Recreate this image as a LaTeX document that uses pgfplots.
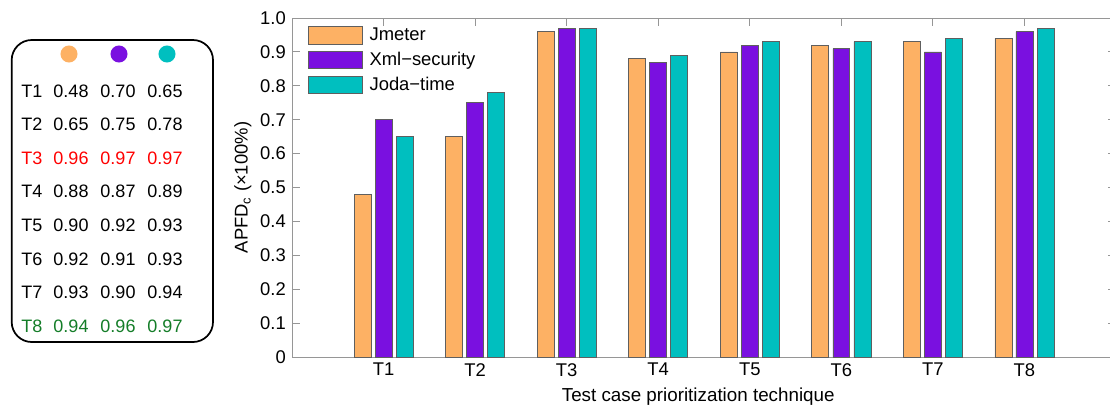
\documentclass[border=0pt]{standalone}
\usepackage{pgfplots}
\pgfplotsset{compat=1.18}
\usepackage{fontspec}
\setmainfont{Liberation Sans}
\definecolor{cOr}{RGB}{253,177,100}
\definecolor{cPu}{RGB}{122,16,224}
\definecolor{cCy}{RGB}{0,191,191}
\definecolor{cEdge}{RGB}{95,95,95}
\definecolor{cGr}{RGB}{20,125,40}
\definecolor{cAx}{RGB}{150,150,150}
\begin{document}
\fontsize{13.5}{16}\selectfont
\begin{tikzpicture}[x=0.75pt,y=0.75pt,font=\fontsize{13.5}{16}\selectfont]
\useasboundingbox (0,0) rectangle (1110,405);
% summary table
\draw[line width=1.3pt, rounded corners=15pt] (11.7,63) rectangle (213,365);
\fill[cOr] (69,351) circle[radius=6.4pt];
\fill[cPu] (119,351) circle[radius=6.4pt];
\fill[cCy] (167,351) circle[radius=6.4pt];
\foreach \i/\a/\b/\c/\col in {1/0.48/0.70/0.65/black,2/0.65/0.75/0.78/black,3/0.96/0.97/0.97/red,4/0.88/0.87/0.89/black,5/0.90/0.92/0.93/black,6/0.92/0.91/0.93/black,7/0.93/0.90/0.94/black,8/0.94/0.96/0.97/cGr}{
  \pgfmathsetmacro\yy{308-33.6*(\i-1)}
  \node[anchor=base,text=\col,inner sep=0pt] at (32,\yy) {T\i};
  \node[anchor=base,text=\col,inner sep=0pt] at (71,\yy) {\a};
  \node[anchor=base,text=\col,inner sep=0pt] at (118,\yy) {\b};
  \node[anchor=base,text=\col,inner sep=0pt] at (165,\yy) {\c};
}
\begin{axis}[
  at={(219pt,36pt)}, anchor=south west, scale only axis,
  width=618pt, height=254.25pt,
  xmin=0, xmax=9, ymin=0, ymax=1,
  ybar, bar width=0.185,
  legend image code/.code={\path[#1] (0pt,-6.5pt) rectangle (40.5pt,6.5pt);},
  xtick={1,2,3,4,5,6,7,8}, xticklabels={T1,T2,T3,T4,T5,T6,T7,T8},
  ytick={0,0.1,0.2,0.3,0.4,0.5,0.6,0.7,0.8,0.9,1},
  yticklabels={0,0.1,0.2,0.3,0.4,0.5,0.6,0.7,0.8,0.9,1.0},
  tick align=inside, major tick length=6pt,
  axis line style={draw=cAx, line width=0.7pt},
  tick style={draw=cAx, line width=0.7pt},
  tick label style={font=\fontsize{13.8}{16}\selectfont},
  /pgf/number format/assume math mode=true,
  xlabel={Test case prioritization technique},
  ylabel={APFD\textsubscript{c} (×100\%)},
  xlabel style={at={(axis description cs:0.493,-0.1298)}, anchor=base, font=\fontsize{14.1}{16}\selectfont},
  ylabel style={at={(axis description cs:-0.0595,0.5)}, anchor=center, font=\fontsize{13.8}{16}\selectfont},
  legend style={at={(0.0194,0.976)}, anchor=north west, draw=none, fill=none,
    inner sep=0pt, row sep=5pt, column sep=5pt, nodes={inner sep=0pt},
    font=\fontsize{13.8}{16}\selectfont},
  legend cell align=left,
]
\addplot[fill=cOr, draw=cEdge, line width=0.5pt, bar shift=-0.23] coordinates {(1,0.48) (2,0.65) (3,0.96) (4,0.88) (5,0.90) (6,0.92) (7,0.93) (8,0.94)};
\addplot[fill=cPu, draw=cEdge, line width=0.5pt, bar shift=0] coordinates {(1,0.70) (2,0.75) (3,0.97) (4,0.87) (5,0.92) (6,0.91) (7,0.90) (8,0.96)};
\addplot[fill=cCy, draw=cEdge, line width=0.5pt, bar shift=0.23] coordinates {(1,0.65) (2,0.78) (3,0.97) (4,0.89) (5,0.93) (6,0.93) (7,0.94) (8,0.97)};
\legend{Jmeter,Xml−security,Joda−time}
\end{axis}
\end{tikzpicture}
\end{document}
